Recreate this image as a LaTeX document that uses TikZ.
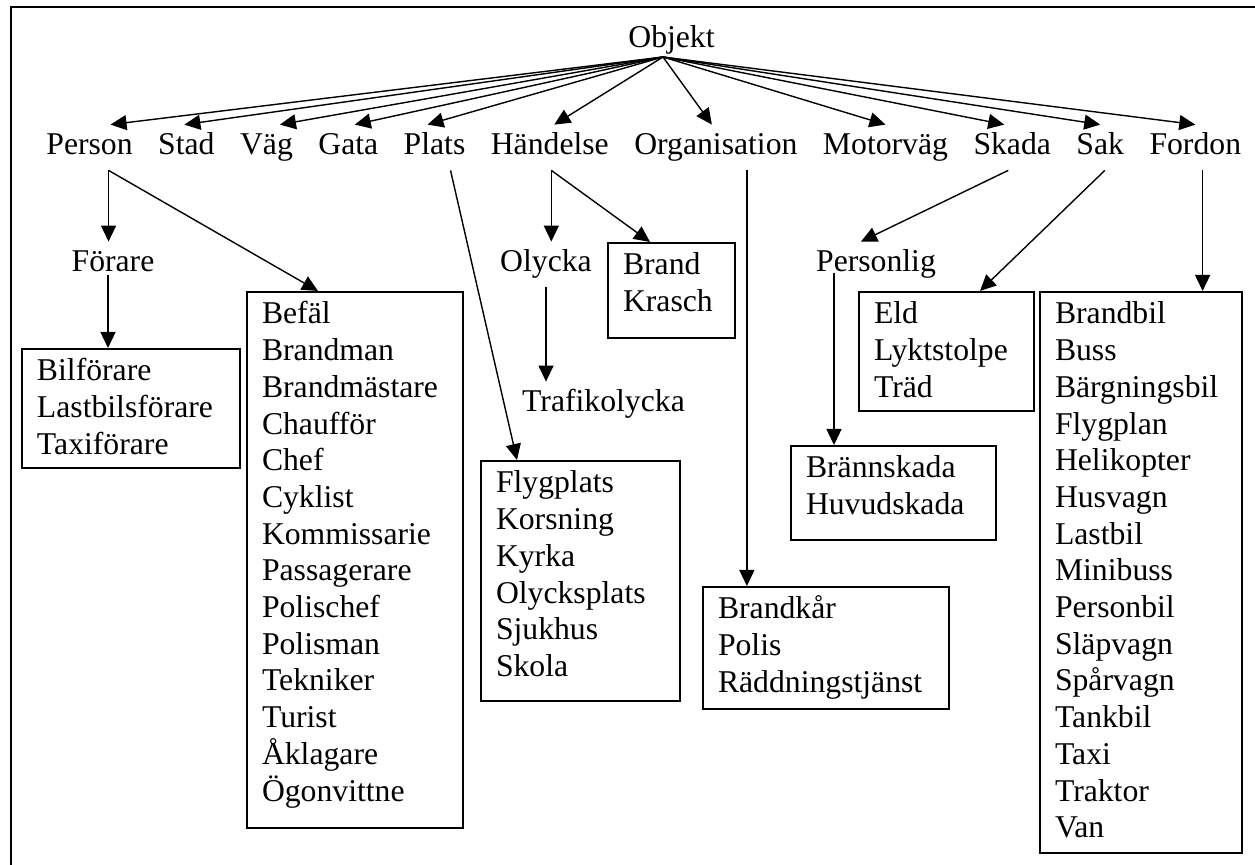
\documentclass[tikz,border=0pt]{standalone}
\usepackage{fontspec}
\setmainfont{Liberation Serif}
\usetikzlibrary{arrows.meta, positioning}

\begin{document}
\begin{tikzpicture}[
    x=0.5pt, y=-0.5pt,
    node distance=12.35pt,
    lbl/.style={inner xsep=0pt, inner ysep=4pt, text height=11pt, text depth=3.5pt},
    arr/.style={-{Triangle[length=8pt, width=7.5pt]}, line width=0.7pt},
    listbox/.style 2 args={draw, line width=1pt, anchor=north west, text width=#1,
        inner xsep=7.5pt, inner ysep=0pt, align=left,
        execute at begin node={\rule{0pt}{16pt}},
        execute at end node={\rule[-#2]{0pt}{#2}}}
  ]
  \fontsize{15.85}{18.35}\selectfont
  \useasboundingbox (0,0) rectangle (1255,865);
  \draw[line width=0.95pt] (11,875) |- (1265,7);

  % top
  \node[lbl, anchor=base] (objekt) at (671.5,48) {Objekt};
  \coordinate (hub) at ([xshift=-4.25pt, yshift=-4.5pt]objekt.base);

  % first level, one line of words
  \node[lbl, anchor=base west] (person) at (46,155) {Person};
  \node[lbl, base right=of person] (stad) {Stad};
  \node[lbl, base right=of stad] (vag) {Väg};
  \node[lbl, base right=of vag] (gata) {Gata};
  \node[lbl, base right=of gata] (plats) {Plats};
  \node[lbl, base right=of plats] (handelse) {Händelse};
  \node[lbl, base right=of handelse] (org) {Organisation};
  \node[lbl, base right=of org] (motorvag) {Motorväg};
  \node[lbl, base right=of motorvag] (skada) {Skada};
  \node[lbl, base right=of skada] (sak) {Sak};
  \node[lbl, base right=of sak] (fordon) {Fordon};

  \foreach \n/\s in {person/10.5pt, stad/-1pt, vag/6.75pt, gata/3.25pt, plats/-3.5pt,
      handelse/2.25pt, org/-2pt, motorvag/0pt, skada/-4pt, sak/0pt, fordon/0pt}
    \draw[arr] (hub) -- ([xshift=\s]\n.north);

  % second level
  \node[lbl, anchor=base] (forare) at (113,272) {Förare};
  \node[lbl, anchor=base] (olycka) at (546,272) {Olycka};
  \node[lbl, anchor=base] (trafik) at (603.5,412) {Trafikolycka};
  \node[lbl, anchor=base] (personlig) at (876,272) {Personlig};

  % lists
  \node[listbox={94pt}{7pt}] (bilf) at (21,348) {Bilförare\\Lastbilsförare\\Taxiförare};
  \node[listbox={93pt}{13.5pt}] (befal) at (246,291) {Befäl\\Brandman\\Brandmästare\\Chaufför\\Chef\\Cyklist\\Kommissarie\\Passagerare\\Polischef\\Polisman\\Tekniker\\Turist\\Åklagare\\Ögonvittne};
  \node[listbox={48.5pt}{13pt}] (brand) at (607,242) {Brand\\Krasch};
  \node[listbox={84.5pt}{12.25pt}] (flyg) at (480,460) {Flygplats\\Korsning\\Kyrka\\Olycksplats\\Sjukhus\\Skola};
  \node[listbox={108pt}{8.5pt}] (brandkar) at (702,586) {Brandkår\\Polis\\Räddningstjänst};
  \node[listbox={87.5pt}{12.5pt}] (brann) at (790,445) {Brännskada\\Huvudskada};
  \node[listbox={72.5pt}{7pt}] (eld) at (858,291) {Eld\\Lyktstolpe\\Träd};
  \node[listbox={86pt}{7.5pt}] (fbox) at (1039,291) {Brandbil\\Buss\\Bärgningsbil\\Flygplan\\Helikopter\\Husvagn\\Lastbil\\Minibuss\\Personbil\\Släpvagn\\Spårvagn\\Tankbil\\Taxi\\Traktor\\Van};

  % connectors below the first level
  \coordinate (psrc) at ([xshift=9.5pt]person.south);
  \draw[arr] (psrc) -- (psrc |- forare.north);
  \draw[arr] (psrc) -- ([xshift=36pt]befal.north west);
  \coordinate (fsrc) at ([xshift=-2.5pt, yshift=-1.5pt]forare.base);
  \draw[arr] (fsrc) -- (fsrc |- bilf.north);
  \draw[arr] ([xshift=8pt]plats.south) -- ([xshift=18.5pt]flyg.north west);
  \coordinate (hsrc) at ([xshift=0.75pt]handelse.south);
  \draw[arr] (hsrc) -- (hsrc |- olycka.north);
  \draw[arr] (hsrc) -- ([xshift=21.5pt]brand.north west);
  \draw[arr] (olycka.south) -- (olycka.south |- trafik.north);
  \coordinate (osrc) at ([xshift=15.5pt]org.south);
  \draw[arr] (osrc) -- (osrc |- brandkar.north);
  \draw[arr] ([xshift=-2pt]skada.south) -- ([xshift=-7.5pt]personlig.north);
  \coordinate (plsrc) at ([xshift=-21pt, yshift=-0.5pt]personlig.base);
  \draw[arr] (plsrc) -- (plsrc |- brann.north);
  \draw[arr] ([xshift=2.3pt]sak.south) -- ([xshift=61pt]eld.north west);
  \coordinate (fdsrc) at ([xshift=3.65pt]fordon.south);
  \draw[arr] (fdsrc) -- (fdsrc |- fbox.north);
\end{tikzpicture}
\end{document}
